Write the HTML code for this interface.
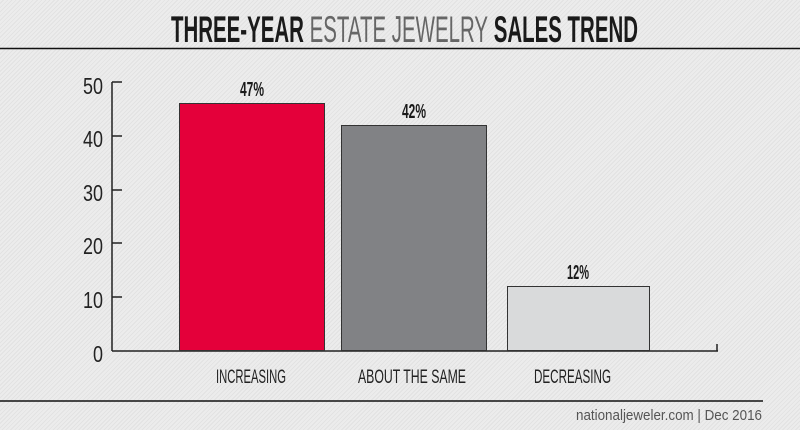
<!DOCTYPE html>
<html><head><meta charset="utf-8"><style>
html,body{margin:0;padding:0;}
body{width:800px;height:430px;overflow:hidden;background:#e9e9e9;
background-image:repeating-linear-gradient(135deg,#ececec 0 2px,#e2e2e2 2px 3px);}
svg{display:block}
</style></head><body>
<svg width="800" height="430" viewBox="0 0 800 430" xmlns="http://www.w3.org/2000/svg" font-family="'Liberation Sans Narrow','Liberation Sans',sans-serif">
<text x="171" y="42" font-size="37" font-weight="bold" textLength="467" lengthAdjust="spacingAndGlyphs" fill="#1a1a1a">THREE-YEAR <tspan fill="#666" font-weight="normal">ESTATE JEWELRY</tspan> SALES TREND</text>
<line x1="0" y1="48.5" x2="800" y2="48.5" stroke="#111" stroke-width="1.5"/>
<g fill="#222" font-size="23" text-anchor="end">
<text x="103" y="94" textLength="20" lengthAdjust="spacingAndGlyphs">50</text>
<text x="103" y="147" textLength="20" lengthAdjust="spacingAndGlyphs">40</text>
<text x="103" y="201" textLength="20" lengthAdjust="spacingAndGlyphs">30</text>
<text x="103" y="254" textLength="20" lengthAdjust="spacingAndGlyphs">20</text>
<text x="103" y="308" textLength="20" lengthAdjust="spacingAndGlyphs">10</text>
<text x="103" y="362" textLength="10" lengthAdjust="spacingAndGlyphs">0</text>
</g>
<g stroke="#222" stroke-width="1.5">
<line x1="112" y1="82" x2="112" y2="351"/>
<line x1="112" y1="82" x2="122" y2="82"/>
<line x1="112" y1="136" x2="122" y2="136"/>
<line x1="112" y1="190" x2="122" y2="190"/>
<line x1="112" y1="243" x2="122" y2="243"/>
<line x1="112" y1="297" x2="122" y2="297"/>
<line x1="112" y1="351" x2="718" y2="351"/>
<line x1="717" y1="351" x2="717" y2="344"/>
</g>
<rect x="179.5" y="103.5" width="145" height="247" fill="#e4003a" stroke="#333"/>
<rect x="341.5" y="125.5" width="145" height="225" fill="#818285" stroke="#333"/>
<rect x="507.5" y="286.5" width="142" height="64" fill="#d9dadb" stroke="#333"/>
<g fill="#1a1a1a" font-size="20" font-weight="bold" text-anchor="middle">
<text x="252" y="96" textLength="24" lengthAdjust="spacingAndGlyphs">47%</text>
<text x="414" y="118" textLength="24" lengthAdjust="spacingAndGlyphs">42%</text>
<text x="578" y="279" textLength="22" lengthAdjust="spacingAndGlyphs">12%</text>
</g>
<g fill="#222" font-size="19">
<text x="216" y="383" textLength="70" lengthAdjust="spacingAndGlyphs">INCREASING</text>
<text x="358" y="383" textLength="108" lengthAdjust="spacingAndGlyphs">ABOUT THE SAME</text>
<text x="534" y="383" textLength="77" lengthAdjust="spacingAndGlyphs">DECREASING</text>
</g>
<line x1="0" y1="401" x2="763" y2="401" stroke="#111" stroke-width="1.5"/>
<text x="762" y="420" font-size="15" fill="#555" text-anchor="end" textLength="186" lengthAdjust="spacingAndGlyphs">nationaljeweler.com | Dec 2016</text>
</svg>
</body></html>
